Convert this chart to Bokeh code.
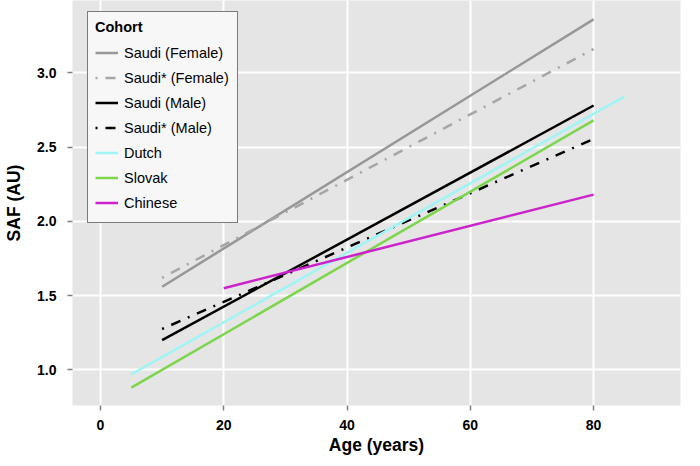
from bokeh.plotting import figure
from bokeh.models import Legend, LegendItem, Range1d, FixedTicker, PrintfTickFormatter
from bokeh.embed import file_html
from bokeh.resources import INLINE

# ---- data ----
cohorts = ["Saudi (Female)", "Saudi* (Female)", "Saudi (Male)", "Saudi* (Male)",
           "Dutch", "Slovak", "Chinese"]
age_start = [10, 10, 10, 10, 5, 5, 20]
age_end = [80, 80, 80, 80, 85, 80, 80]
saf_start = [1.56, 1.62, 1.20, 1.275, 0.97, 0.88, 1.55]
saf_end = [3.36, 3.16, 2.78, 2.555, 2.84, 2.68, 2.18]
x_ticks = [0, 20, 40, 60, 80]
y_ticks = [1.0, 1.5, 2.0, 2.5, 3.0]

# ---- styles ----
colors = ["#979797", "#a6a6a6", "#000000", "#000000", "#9ff5f5", "#7cd64c", "#cc22cc"]
dashes = ["solid", "2 8 10 8", "solid", "2 8 10 8", "solid", "solid", "solid"]
FONT = "Liberation Sans"

p = figure(width=684, height=458, output_backend="svg", toolbar_location=None,
           x_range=Range1d(-4.54, 94.1), y_range=Range1d(0.76, 3.487),
           min_border_left=72, min_border_right=4, min_border_top=0,
           min_border_bottom=53)
p.background_fill_color = "#e5e5e5"
p.border_fill_color = "white"
p.outline_line_color = None

p.xgrid.grid_line_color = "white"
p.ygrid.grid_line_color = "white"
p.xgrid.grid_line_width = 2
p.ygrid.grid_line_width = 2
p.xaxis.ticker = FixedTicker(ticks=x_ticks)
p.yaxis.ticker = FixedTicker(ticks=y_ticks)
p.yaxis.formatter = PrintfTickFormatter(format="%.1f")

for ax in (p.xaxis, p.yaxis):
    ax.axis_line_color = None
    ax.major_tick_line_color = "#7f7f7f"
    ax.major_tick_line_width = 1.5
    ax.major_tick_out = 5
    ax.major_tick_in = 0
    ax.minor_tick_line_color = None
    ax.major_label_text_font = FONT
    ax.major_label_text_font_style = "bold"
    ax.major_label_text_font_size = "14px"
    ax.major_label_text_color = "black"
    ax.axis_label_text_font = FONT
    ax.axis_label_text_font_style = "bold"
    ax.axis_label_text_font_size = "17.5px"
    ax.axis_label_text_color = "black"

p.xaxis.axis_label = "Age (years)"
p.yaxis.axis_label = "SAF (AU)"
p.xaxis.major_label_standoff = 9
p.yaxis.major_label_standoff = 11
p.xaxis.axis_label_standoff = 2
p.yaxis.axis_label_standoff = 10

items = []
for name, a0, a1, s0, s1, c, d in zip(cohorts, age_start, age_end, saf_start, saf_end, colors, dashes):
    r = p.line([a0, a1], [s0, s1], line_color=c, line_width=2.5, line_dash=d, line_cap="butt")
    items.append(LegendItem(label=name, renderers=[r]))

legend = Legend(items=items, location=(15, 182), title="Cohort",
                title_text_font=FONT, title_text_font_style="bold", title_text_font_size="14.5px",
                title_text_color="black", title_standoff=5,
                label_text_font=FONT, label_text_font_size="14.5px", label_text_color="black",
                glyph_width=23, glyph_height=25, label_height=25, label_width=106,
                label_standoff=6, spacing=0, padding=7, margin=0,
                border_line_color="black", border_line_width=1.5,
                background_fill_color="#f7f7f7", background_fill_alpha=1.0)
p.add_layout(legend, "center")

open("out.html", "w").write(file_html(p, INLINE))
